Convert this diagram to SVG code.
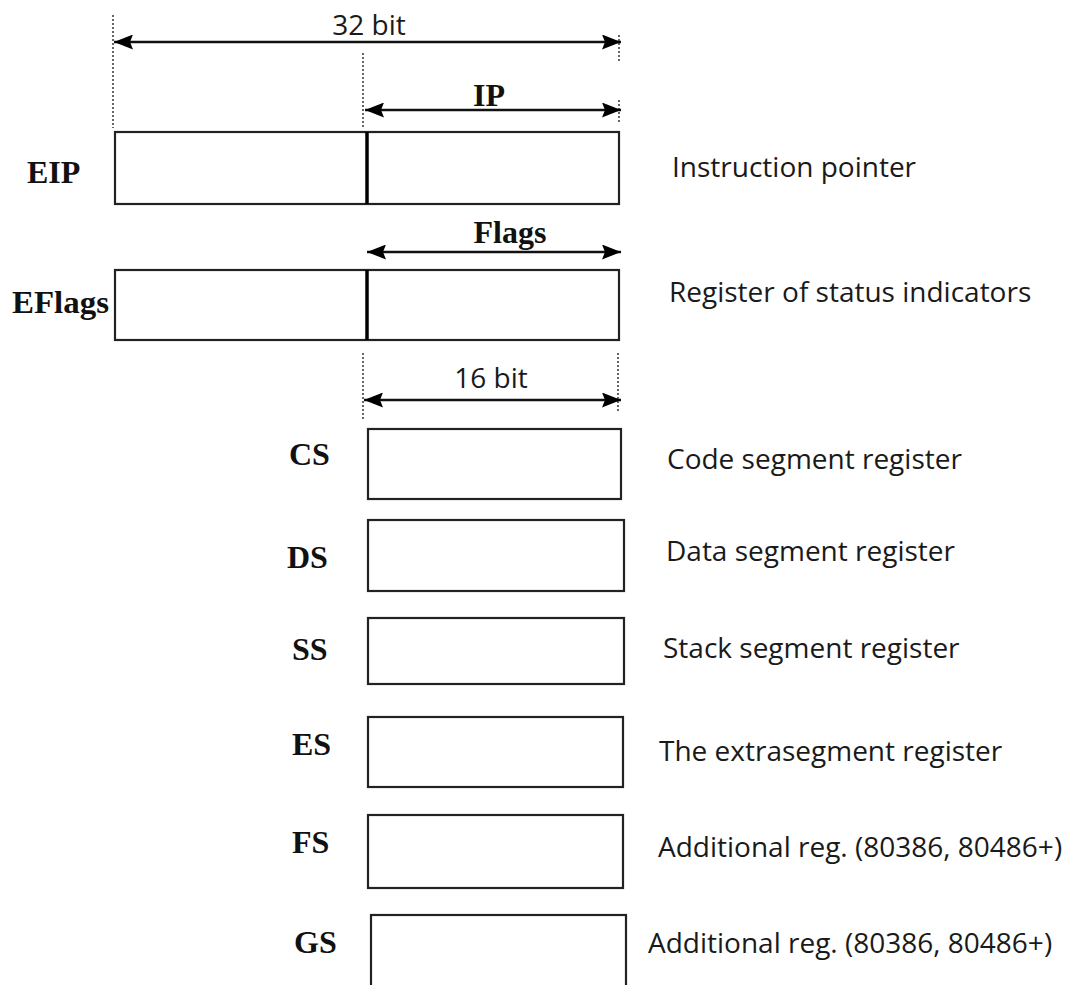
<svg xmlns="http://www.w3.org/2000/svg" width="1079" height="985" viewBox="0 0 1079 985">
<defs>
<marker id="ah" viewBox="0 0 19 15" markerWidth="19" markerHeight="15" refX="19" refY="7.5" orient="auto-start-reverse" markerUnits="userSpaceOnUse">
<path d="M0,0 L19,7.5 L0,15 L3,7.5 Z" fill="#000"/>
</marker>
</defs>
<style>
.box{fill:#fff;stroke:#222;stroke-width:2.2}
.div{stroke:#000;stroke-width:3.5}
.dot{stroke:#333;stroke-width:1.5;stroke-dasharray:2 2;fill:none}
.arr{stroke:#111;stroke-width:2.6;fill:none}
.reg{font-family:"Liberation Serif",serif;font-weight:bold;font-size:32px;fill:#111}
.desc{font-family:"Open Sans","Noto Sans",sans-serif;font-size:28px;fill:#1a1a1a}
.dim{font-family:"Open Sans","Noto Sans",sans-serif;font-size:28px;fill:#1a1a1a}
</style>
<rect width="1079" height="985" fill="#fff"/>
<g id="connectors">
<line class="dot" x1="113" y1="15" x2="113" y2="128"/>
<line class="dot" x1="363" y1="53" x2="363" y2="128"/>
<line class="dot" x1="619" y1="35" x2="619" y2="62"/>
<line class="dot" x1="619" y1="100" x2="619" y2="122"/>
<line class="arr" x1="114" y1="42" x2="621" y2="42" marker-start="url(#ah)" marker-end="url(#ah)"/>
<line class="arr" x1="365" y1="110" x2="621" y2="110" marker-start="url(#ah)" marker-end="url(#ah)"/>
<line class="arr" x1="367" y1="252" x2="621" y2="252" marker-start="url(#ah)" marker-end="url(#ah)"/>
<line class="dot" x1="363" y1="353" x2="363" y2="420"/>
<line class="dot" x1="618" y1="353" x2="618" y2="412"/>
<line class="arr" x1="364" y1="400" x2="621" y2="400" marker-start="url(#ah)" marker-end="url(#ah)"/>
<text class="dim" x="369" y="35" text-anchor="middle">32 bit</text>
<text class="reg" x="489" y="106" text-anchor="middle">IP</text>
<text class="reg" x="510" y="243" text-anchor="middle">Flags</text>
<text class="dim" x="491" y="388" text-anchor="middle">16 bit</text>
</g>
<g id="eip">
<rect class="box" x="115" y="132" width="504" height="72"/>
<line class="div" x1="367" y1="132" x2="367" y2="204"/>
<text class="reg" x="27" y="183">EIP</text>
<text class="desc" x="672" y="177">Instruction pointer</text>
</g>
<g id="eflags">
<rect class="box" x="115" y="270" width="504" height="70"/>
<line class="div" x1="367" y1="270" x2="367" y2="340"/>
<text class="reg" x="12" y="313" textLength="97" lengthAdjust="spacingAndGlyphs">EFlags</text>
<text class="desc" x="669" y="302">Register of status indicators</text>
</g>
<g id="cs">
<rect class="box" x="368" y="429" width="253" height="70"/>
<text class="reg" x="289" y="465">CS</text>
<text class="desc" x="667" y="469">Code segment register</text>
</g>
<g id="ds">
<rect class="box" x="368" y="520" width="256" height="71"/>
<text class="reg" x="287" y="568">DS</text>
<text class="desc" x="666" y="561">Data segment register</text>
</g>
<g id="ss">
<rect class="box" x="368" y="618" width="256" height="66"/>
<text class="reg" x="292" y="660">SS</text>
<text class="desc" x="663" y="658">Stack segment register</text>
</g>
<g id="es">
<rect class="box" x="368" y="717" width="255" height="70"/>
<text class="reg" x="292" y="755">ES</text>
<text class="desc" x="659" y="761">The extrasegment register</text>
</g>
<g id="fs">
<rect class="box" x="368" y="815" width="255" height="73"/>
<text class="reg" x="292" y="853">FS</text>
<text class="desc" x="658" y="857">Additional reg. (80386, 80486+)</text>
</g>
<g id="gs">
<rect class="box" x="371" y="915" width="255" height="75"/>
<text class="reg" x="294" y="953">GS</text>
<text class="desc" x="648" y="953">Additional reg. (80386, 80486+)</text>
</g>
</svg>
